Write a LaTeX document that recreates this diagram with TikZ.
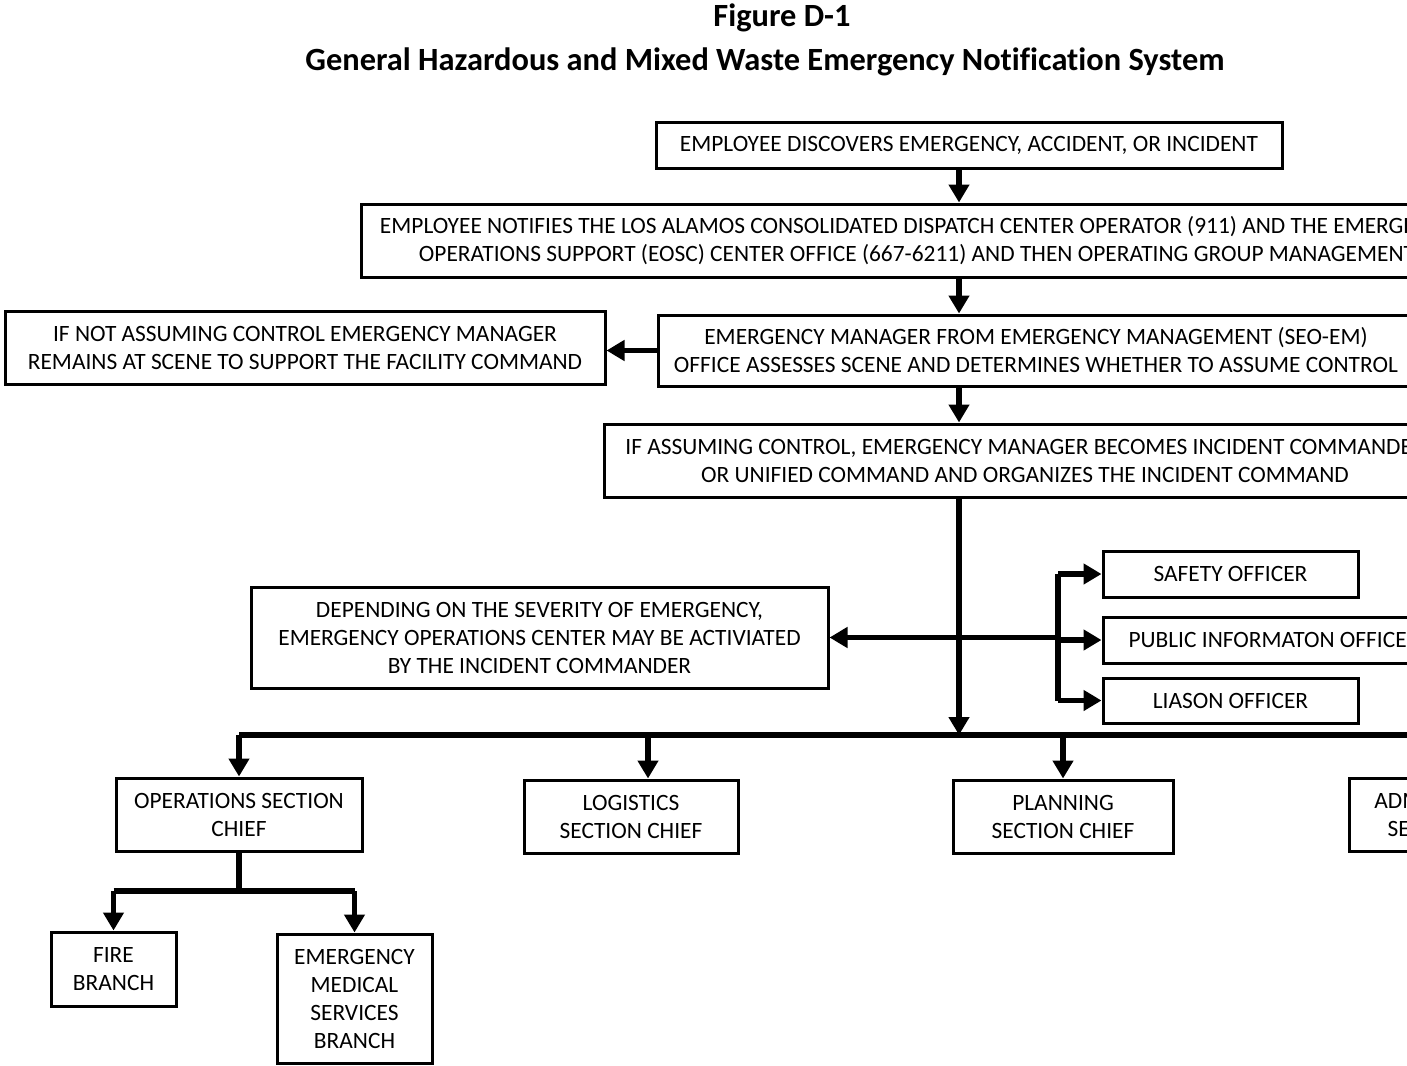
\documentclass[tikz,border=0pt]{standalone}
\usepackage{fontspec}
\setmainfont{Carlito}[Ligatures=NoCommon]
\usepackage{tikz}
\usetikzlibrary{arrows.meta}
\usetikzlibrary{positioning}
\tikzset{
    x=0.5pt, y=-0.5pt, % one unit is one pixel of the original sheet
    box/.style={ % Sets the properties for each box
        draw,
        line width=1.5pt,
        align=center,
        inner sep=0pt,
        font=\fontsize{11.7}{14}\selectfont
    },
    boxsize/.style 2 args={minimum width=#1*0.5pt, minimum height=#2*0.5pt},
    line/.style={ % Plain connector
        draw,
        line width=2.6pt
    },
    conn/.style={ % Connector with a bold triangular head
        line,
        -{Triangle[length=9pt, width=10pt]}
    }
}

\begin{document}
\begin{tikzpicture}
    \useasboundingbox (0,0) rectangle (1407,1065);
    \clip (0,0) rectangle (1407,1065);

    \node[font=\fontsize{16.2}{18}\bfseries] (fig) at (782,18) {Figure D-1};
    \node[font=\fontsize{16.2}{18}\bfseries] (title) at (765,62) {General Hazardous and Mixed Waste Emergency Notification System};

    \coordinate (spine) at (959,0);
    \coordinate (fork) at (1058,0);
    \coordinate (bus) at (0,735);
    \coordinate (tee) at (0,891);

    \node[box, boxsize={626}{45}] (discover) at (969,145.5) {EMPLOYEE DISCOVERS EMERGENCY, ACCIDENT, OR INCIDENT};
    \node[box, boxsize={1112}{73}] (notify) at (917,240.5) {EMPLOYEE NOTIFIES THE LOS ALAMOS CONSOLIDATED DISPATCH CENTER OPERATOR (911) AND THE EMERGENCY\\OPERATIONS SUPPORT (EOSC) CENTER OFFICE (667-6211) AND THEN OPERATING GROUP MANAGEMENT};
    \node[box, boxsize={756}{71}] (assess) at (1036,350.5) {EMERGENCY MANAGER FROM EMERGENCY MANAGEMENT (SEO-EM)\\OFFICE ASSESSES SCENE AND DETERMINES WHETHER TO ASSUME CONTROL};
    \node[box, boxsize={600}{73}] (remain) at (305,347.5) {IF NOT ASSUMING CONTROL EMERGENCY MANAGER\\REMAINS AT SCENE TO SUPPORT THE FACILITY COMMAND};
    \node[box, boxsize={842}{73}] (command) at (1025,460.5) {IF ASSUMING CONTROL, EMERGENCY MANAGER BECOMES INCIDENT COMMANDER\\OR UNIFIED COMMAND AND ORGANIZES THE INCIDENT COMMAND};
    \node[box, boxsize={577}{101}] (eoc) at (539.5,637.5) {DEPENDING ON THE SEVERITY OF EMERGENCY,\\EMERGENCY OPERATIONS CENTER MAY BE ACTIVIATED\\BY THE INCIDENT COMMANDER};

    \node[box, boxsize={255}{46}] (safety) at (1230.5,574) {SAFETY OFFICER};
    \node[box, boxsize={342}{46}] (public) at (1274,640) {PUBLIC INFORMATON OFFICER};
    \node[box, boxsize={255}{45}] (liason) at (1230.5,700.5) {LIASON OFFICER};

    \node[box, boxsize={246}{73}] (ops) at (239,814.5) {OPERATIONS SECTION\\CHIEF};
    \node[box, boxsize={214}{73}] (logistics) at (631,816.5) {LOGISTICS\\SECTION CHIEF};
    \node[box, boxsize={220}{73}] (planning) at (1063,816.5) {PLANNING\\SECTION CHIEF};
    \node[box, boxsize={220}{73}] (admin) at (1459,814.5) {ADMINISTRATION\\SECTION CHIEF};

    \node[box, boxsize={125}{74}] (fire) at (113.5,969) {FIRE\\BRANCH};
    \node[box, boxsize={155}{129}] (ems) at (354.5,998.5) {EMERGENCY\\MEDICAL\\SERVICES\\BRANCH};

    % main column
    \draw[conn] (discover.south -| spine) -- (notify.north -| spine);
    \draw[conn] (notify.south -| spine) -- (assess.north -| spine);
    \draw[conn] (assess.west) -- (assess.west -| remain.east);
    \draw[conn] (assess.south -| spine) -- (command.north -| spine);
    \draw[conn] (command.south -| spine) -- (spine |- bus);

    % side branches
    \draw[conn] (spine |- eoc.east) -- (eoc.east);
    \draw[line] (spine |- eoc.east) -- (fork |- eoc.east);
    \draw[line] (fork |- safety.west) -- (fork |- liason.west);
    \draw[conn] (fork |- safety.west) -- (safety.west);
    \draw[conn] (fork |- public.west) -- (public.west);
    \draw[conn] (fork |- liason.west) -- (liason.west);

    % sections
    \draw[line] (ops.north |- bus) -- (admin.north |- bus);
    \draw[conn] (ops.north |- bus) -- (ops.north);
    \draw[conn] (648,735) -- (648,0 |- logistics.north);
    \draw[conn] (planning.north |- bus) -- (planning.north);
    \draw[conn] (admin.north |- bus) -- (admin.north);

    % branches
    \draw[line] (ops.south) -- (ops.south |- tee);
    \draw[line] (fire.north |- tee) -- (ems.north |- tee);
    \draw[conn] (fire.north |- tee) -- (fire.north);
    \draw[conn] (ems.north |- tee) -- (ems.north);
\end{tikzpicture}
\end{document}
